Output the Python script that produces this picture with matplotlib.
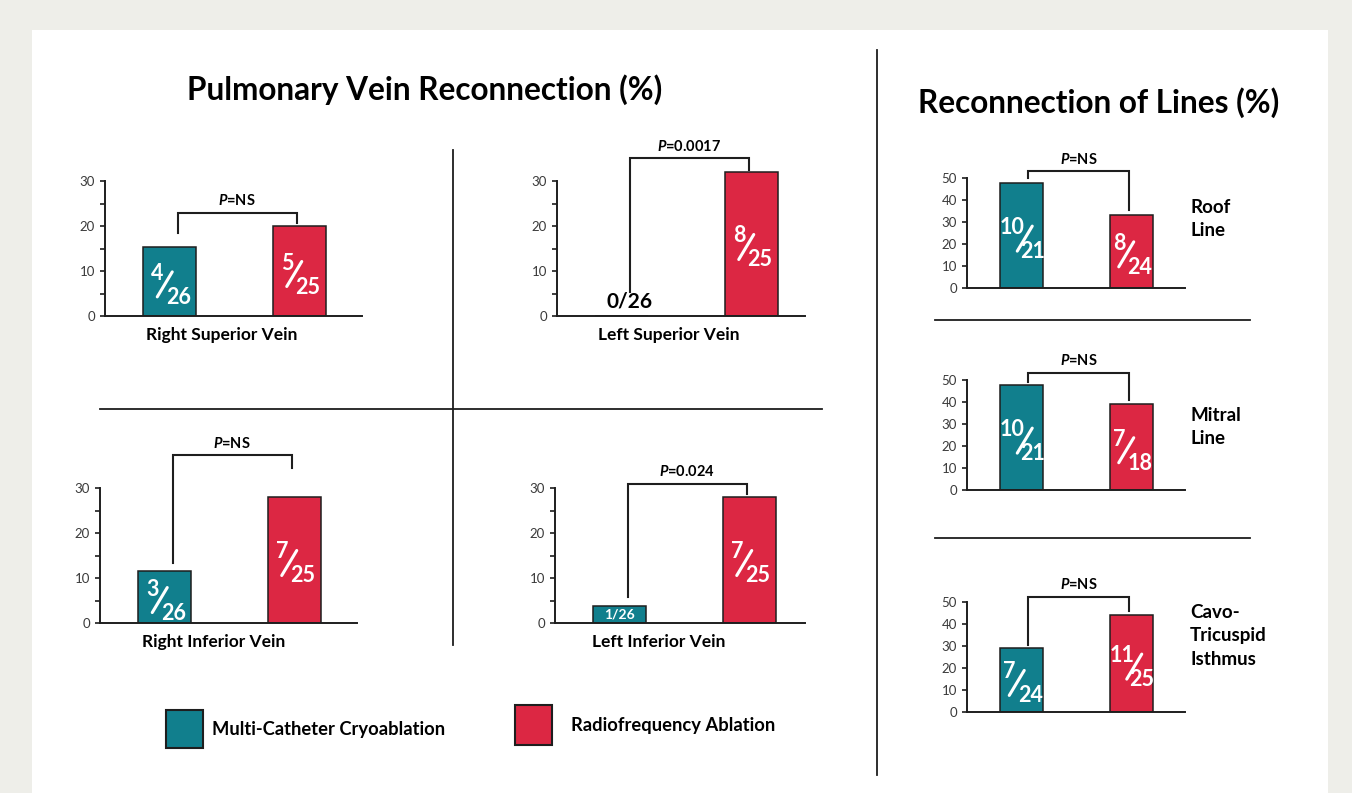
import matplotlib
matplotlib.use('Agg')
import matplotlib.pyplot as plt
from matplotlib.patches import Rectangle
from matplotlib.lines import Line2D
from matplotlib.transforms import offset_copy

plt.rcParams['font.family'] = ['Lato', 'DejaVu Sans']
plt.rcParams['mathtext.fontset'] = 'custom'
plt.rcParams['mathtext.bfit'] = 'Lato:italic:bold'
plt.rcParams['mathtext.rm'] = 'Lato:bold'

# pulmonary vein reconnection: reconnected / total veins
vein_names = ['Right Superior Vein', 'Left Superior Vein', 'Right Inferior Vein', 'Left Inferior Vein']
vein_cryo_n = [4, 0, 3, 1]
vein_cryo_d = [26, 26, 26, 26]
vein_rf_n = [5, 8, 7, 7]
vein_rf_d = [25, 25, 25, 25]
vein_p = ['NS', '0.0017', 'NS', '0.024']

# line reconnection: reconnected / total lines
line_names = ['Roof\nLine', 'Mitral\nLine', 'Cavo-\nTricuspid\nIsthmus']
line_cryo_n = [10, 10, 7]
line_cryo_d = [21, 21, 24]
line_rf_n = [8, 7, 11]
line_rf_d = [24, 18, 25]
line_p = ['NS', 'NS', 'NS']

legend_labels = ['Multi-Catheter Cryoablation', 'Radiofrequency Ablation']

TEAL = '#117f8d'
RED = '#dc2743'
INK = '#1e1e1e'

W, H = 1352, 793
fig = plt.figure(figsize=(W / 100, H / 100), dpi=100)
fig.patch.set_facecolor('#eeeee9')
fig.add_artist(Rectangle((32 / W, 0), (1328 - 32) / W, (H - 30) / H, transform=fig.transFigure,
                         facecolor='white', edgecolor='none', zorder=-5))


def axes_px(left, right, bottom, ymax, px_unit):
    top = bottom - ymax * px_unit
    return fig.add_axes([left / W, 1 - bottom / H, (right - left) / W, (bottom - top) / H])


def fig_line(x0, y0, x1, y1, lw=1.3):
    fig.add_artist(Line2D([x0 / W, x1 / W], [1 - y0 / H, 1 - y1 / H], transform=fig.transFigure,
                          color=INK, lw=lw))


def shifted(ax, dx, dy):
    return offset_copy(ax.transData, fig=fig, x=dx, y=dy, units='dots')


def fraction(ax, x, y, num, den, size=15.5):
    # stacked "num / den" drawn inside a bar
    if num < 10:
        sx, nx, dx = -5, -1, 1
    else:
        sx, nx, dx = 3, 0, -5
    sy = -3
    kw = dict(color='white', fontsize=size, fontweight='bold', va='center', zorder=4)
    ax.text(x, y, str(num), transform=shifted(ax, sx + nx, sy + 11), ha='right', **kw)
    ax.text(x, y, str(den), transform=shifted(ax, sx + dx, sy - 13), ha='left', **kw)
    ax.annotate('', xy=(x, y), xycoords=shifted(ax, sx + 7.5, sy + 12.5),
                xytext=(x, y), textcoords=shifted(ax, sx - 7.5, sy - 12.5),
                arrowprops=dict(arrowstyle='-', color='white', lw=2.2, shrinkA=0, shrinkB=0),
                zorder=4)


def panel(ax, nums, dens, p_text, bracket, ymax, ytop, step, minor, px_unit, bar_w):
    ax.set_facecolor('none')
    for s in ['top', 'right']:
        ax.spines[s].set_visible(False)
    for s in ['left', 'bottom']:
        ax.spines[s].set_color(INK)
        ax.spines[s].set_linewidth(1.4)
    ax.spines['left'].set_bounds(0, ytop)
    ax.set_ylim(0, ymax)
    ax.set_yticks(range(0, ytop + 1, step))
    if minor:
        ax.set_yticks(range(5, ytop, 10), minor=True)
    ax.tick_params(axis='y', which='both', direction='out', length=3.8, width=1.2, color=INK,
                   labelsize=9.5, labelcolor='#3a3a3a', pad=3.5)
    ax.set_xticks([])

    pcts = [100 * n / d for n, d in zip(nums, dens)]
    ax.bar([0, 1], pcts, width=bar_w, color=[TEAL, RED], edgecolor=INK, linewidth=1.1, zorder=2)

    for i, (n, d, v) in enumerate(zip(nums, dens, pcts)):
        if n == 0:
            ax.annotate(f'{n}/{d}', xy=(i, 0), xytext=(8, 15), textcoords='offset pixels',
                        ha='center', va='center', fontsize=15, fontweight='bold', color='black')
        elif v * px_unit < 30:
            ax.text(i, v / 2, f'{n}/{d}', ha='center', va='center', fontsize=10,
                    fontweight='bold', color='white', zorder=3)
        else:
            fraction(ax, i, v / 2, n, d)

    top, l_end, r_end = bracket
    xl, xr = 0.06, 0.98
    ax.plot([xl, xl, xr, xr], [l_end, top, top, r_end], color=INK, lw=1.5, clip_on=False,
            solid_joinstyle='miter')
    ax.annotate(r'$\bfit{P}$=' + p_text, xy=((xl + xr) / 2, top), xytext=(0, 12),
                textcoords='offset pixels', ha='center', va='center', fontsize=10.5,
                fontweight='bold', color='black')


# four vein quadrants: left px, right px, axis bottom px, category label x
quad_layout = [(105, 362, 316, 0.40), (557, 805, 316, 0.36),
               (100, 357, 623, 0.38), (555, 805, 623, 0.30)]
quad_brackets = [(22.9, 18.4, 20.7), (35.1, 5.3, 32.4), (37.3, 13.3, 34.4), (30.9, 5.8, 28.7)]
QPX = 4.5
for k, (l, r, b, lx) in enumerate(quad_layout):
    ax = axes_px(l, r, b, 40, QPX)
    ax.set_xlim(-0.5, -0.5 + (r - l) / 129.5)
    panel(ax, [vein_cryo_n[k], vein_rf_n[k]], [vein_cryo_d[k], vein_rf_d[k]], vein_p[k],
          quad_brackets[k], 40, 30, 10, True, QPX, 0.41)
    ax.annotate(vein_names[k], xy=(lx, 0), xytext=(0, -19), textcoords='offset pixels',
                ha='center', va='center', fontsize=12.5, fontweight='bold', color='black',
                annotation_clip=False)

# three line panels on the right
line_bottoms = [288, 490, 712]
line_label_y = [199, 407, 604]
line_brackets = [(53.0, 50.0, 35.5), (53.2, 49.0, 41.0), (52.3, 30.5, 45.9)]
LPX = 2.2
for k, b in enumerate(line_bottoms):
    ax = axes_px(967, 1185, b, 60, LPX)
    ax.set_xlim(-0.5, -0.5 + 218 / 109.5)
    panel(ax, [line_cryo_n[k], line_rf_n[k]], [line_cryo_d[k], line_rf_d[k]], line_p[k],
          line_brackets[k], 60, 50, 10, False, LPX, 0.39)
    fig.text(1190 / W, 1 - line_label_y[k] / H, line_names[k], ha='left', va='top',
             fontsize=13.5, fontweight='bold', linespacing=1.45)

# titles
fig.text(425 / W, 1 - 90 / H, 'Pulmonary Vein Reconnection (%)', ha='center', va='center',
         fontsize=22.7, fontweight='bold')
fig.text(1099 / W, 1 - 103 / H, 'Reconnection of Lines (%)', ha='center', va='center',
         fontsize=22.7, fontweight='bold')

# dividers
fig_line(877, 50, 877, 775)
fig_line(453, 150, 453, 645)
fig_line(100, 409, 822, 409)
fig_line(935, 320, 1250, 320)
fig_line(935, 538, 1250, 538)

# legend
for (x0, y0, x1, y1), tx, ty, color, label in [((166, 710, 203, 748), 212, 729, TEAL, legend_labels[0]),
                                               ((515, 705, 552, 745), 571, 726, RED, legend_labels[1])]:
    fig.add_artist(Rectangle((x0 / W, 1 - y1 / H), (x1 - x0) / W, (y1 - y0) / H,
                             transform=fig.transFigure, facecolor=color, edgecolor=INK, lw=1.5))
    fig.text(tx / W, 1 - ty / H, label, ha='left', va='center', fontsize=13.2, fontweight='bold')

fig.savefig('out.png', dpi=100, facecolor=fig.get_facecolor())
